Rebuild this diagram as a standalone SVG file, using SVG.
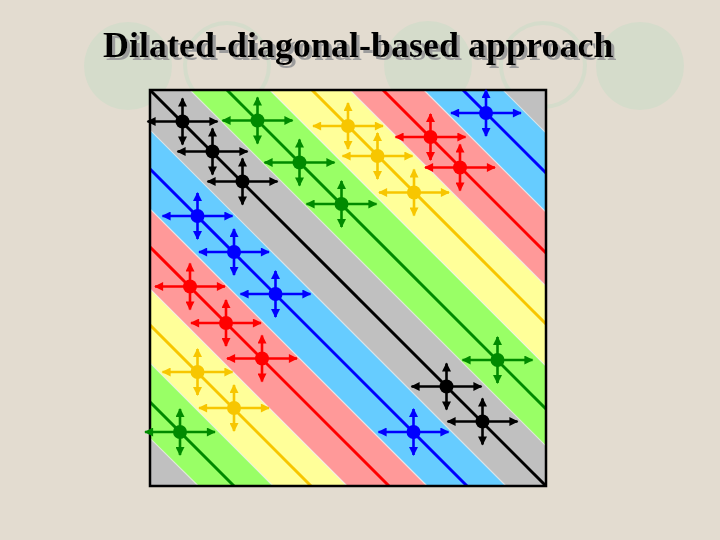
<svg xmlns="http://www.w3.org/2000/svg" xmlns:xlink="http://www.w3.org/1999/xlink" width="720" height="540" viewBox="0 0 720 540">
  <style>
    .title { font-family: "Liberation Serif", "Times New Roman", serif; font-weight: bold; font-size: 36px; }
    .bg-circle { fill: #d5dccb; }
    .bg-ring { fill: none; stroke: #d5dccb; stroke-width: 4; }
    .band { stroke: #f2f2f2; stroke-opacity: 0.7; stroke-width: 1.2; }
    .diag { stroke-width: 3; fill: none; }
    .arm { stroke-width: 2.6; fill: none; }
    .k { stroke: #000000; } .kf { fill: #000000; }
    .g { stroke: #008a00; } .gf { fill: #008a00; }
    .y { stroke: #f7c600; } .yf { fill: #f7c600; }
    .r { stroke: #ff0000; } .rf { fill: #ff0000; }
    .b { stroke: #0000ff; } .bf { fill: #0000ff; }
  </style>
  <defs>
    <filter id="shadow" x="-5%" y="-20%" width="110%" height="150%">
      <feOffset in="SourceAlpha" dx="2.5" dy="2.5" result="off"/>
      <feFlood flood-color="#9c9c9c"/>
      <feComposite in2="off" operator="in" result="sh"/>
      <feMerge><feMergeNode in="sh"/><feMergeNode in="SourceGraphic"/></feMerge>
    </filter>
    <clipPath id="sq"><rect x="150" y="90" width="396" height="396"/></clipPath>
    <marker id="ak" viewBox="0 0 10 10" refX="9" refY="5" markerUnits="userSpaceOnUse" markerWidth="10" markerHeight="9" orient="auto-start-reverse"><path d="M0,0 L10,5 L0,10 z" fill="#000000"/></marker>
    <marker id="ag" viewBox="0 0 10 10" refX="9" refY="5" markerUnits="userSpaceOnUse" markerWidth="10" markerHeight="9" orient="auto-start-reverse"><path d="M0,0 L10,5 L0,10 z" fill="#008a00"/></marker>
    <marker id="ay" viewBox="0 0 10 10" refX="9" refY="5" markerUnits="userSpaceOnUse" markerWidth="10" markerHeight="9" orient="auto-start-reverse"><path d="M0,0 L10,5 L0,10 z" fill="#f7c600"/></marker>
    <marker id="ar" viewBox="0 0 10 10" refX="9" refY="5" markerUnits="userSpaceOnUse" markerWidth="10" markerHeight="9" orient="auto-start-reverse"><path d="M0,0 L10,5 L0,10 z" fill="#ff0000"/></marker>
    <marker id="ab" viewBox="0 0 10 10" refX="9" refY="5" markerUnits="userSpaceOnUse" markerWidth="10" markerHeight="9" orient="auto-start-reverse"><path d="M0,0 L10,5 L0,10 z" fill="#0000ff"/></marker>
    <g id="cross-k"><line class="arm k" x1="-35" y1="0" x2="35" y2="0" marker-start="url(#ak)" marker-end="url(#ak)"/><line class="arm k" x1="0" y1="-23" x2="0" y2="23" marker-start="url(#ak)" marker-end="url(#ak)"/><circle class="kf" r="7"/></g>
    <g id="cross-g"><line class="arm g" x1="-35" y1="0" x2="35" y2="0" marker-start="url(#ag)" marker-end="url(#ag)"/><line class="arm g" x1="0" y1="-23" x2="0" y2="23" marker-start="url(#ag)" marker-end="url(#ag)"/><circle class="gf" r="7"/></g>
    <g id="cross-y"><line class="arm y" x1="-35" y1="0" x2="35" y2="0" marker-start="url(#ay)" marker-end="url(#ay)"/><line class="arm y" x1="0" y1="-23" x2="0" y2="23" marker-start="url(#ay)" marker-end="url(#ay)"/><circle class="yf" r="7"/></g>
    <g id="cross-r"><line class="arm r" x1="-35" y1="0" x2="35" y2="0" marker-start="url(#ar)" marker-end="url(#ar)"/><line class="arm r" x1="0" y1="-23" x2="0" y2="23" marker-start="url(#ar)" marker-end="url(#ar)"/><circle class="rf" r="7"/></g>
    <g id="cross-b"><line class="arm b" x1="-35" y1="0" x2="35" y2="0" marker-start="url(#ab)" marker-end="url(#ab)"/><line class="arm b" x1="0" y1="-23" x2="0" y2="23" marker-start="url(#ab)" marker-end="url(#ab)"/><circle class="bf" r="7"/></g>
  </defs>

  <!-- background -->
  <rect x="0" y="0" width="720" height="540" fill="#e3dcd0"/>
  <g id="background-circles">
    <circle class="bg-circle" cx="128" cy="66" r="44"/>
    <circle class="bg-ring" cx="227" cy="65" r="42"/>
    <circle class="bg-circle" cx="428" cy="65" r="44"/>
    <circle class="bg-ring" cx="543" cy="65" r="42"/>
    <circle class="bg-circle" cx="640" cy="66" r="44"/>
  </g>

  <!-- title -->
  <g id="title">
    <text class="title" x="103" y="57" fill="#000000" filter="url(#shadow)">Dilated-diagonal-based approach</text>
  </g>

  <!-- matrix bands -->
  <g id="bands" clip-path="url(#sq)">
    <rect x="150" y="90" width="396" height="396" fill="#c0c0c0"/>
    <polygon class="band" fill="#99ff66" points="140,40 220,40 720,540 640,540"/>
    <polygon class="band" fill="#ffff99" points="220,40 300,40 800,540 720,540"/>
    <polygon class="band" fill="#ff9999" points="300,40 374,40 874,540 800,540"/>
    <polygon class="band" fill="#66ccff" points="374,40 453,40 953,540 874,540"/>
    <polygon class="band" fill="#66ccff" points="-19,40 60,40 560,540 481,540"/>
    <polygon class="band" fill="#ff9999" points="-99,40 -19,40 481,540 401,540"/>
    <polygon class="band" fill="#ffff99" points="-173,40 -99,40 401,540 327,540"/>
    <polygon class="band" fill="#99ff66" points="-253,40 -173,40 327,540 253,540"/>
  </g>

  <!-- diagonals -->
  <g id="connectors">
    <line id="diag-black" class="diag k" x1="150" y1="90" x2="546" y2="486"/>
    <line id="diag-green-upper" class="diag g" x1="227" y1="90" x2="546" y2="409"/>
    <line id="diag-yellow-upper" class="diag y" x1="312" y1="90" x2="546" y2="324"/>
    <line id="diag-red-upper" class="diag r" x1="383" y1="90" x2="546" y2="253"/>
    <line id="diag-blue-upper" class="diag b" x1="463" y1="90" x2="546" y2="173"/>
    <line id="diag-blue-lower" class="diag b" x1="150" y1="169" x2="467" y2="486"/>
    <line id="diag-red-lower" class="diag r" x1="150" y1="247" x2="389" y2="486"/>
    <line id="diag-yellow-lower" class="diag y" x1="150" y1="325" x2="311" y2="486"/>
    <line id="diag-green-lower" class="diag g" x1="150" y1="402" x2="234" y2="486"/>
  </g>

  <rect id="matrix-frame" x="150" y="90" width="396" height="396" fill="none" stroke="#000000" stroke-width="2.5"/>

  <!-- nodes -->
  <g id="nodes">
    <g id="k1" transform="translate(182.5,121.5)"><use xlink:href="#cross-k"/></g>
    <g id="k2" transform="translate(212.5,151.5)"><use xlink:href="#cross-k"/></g>
    <g id="k3" transform="translate(242.5,181.5)"><use xlink:href="#cross-k"/></g>
    <g id="k4" transform="translate(446.5,386.5)"><use xlink:href="#cross-k"/></g>
    <g id="k5" transform="translate(482.5,421.5)"><use xlink:href="#cross-k"/></g>

    <g id="g1" transform="translate(257.5,120.5)"><use xlink:href="#cross-g"/></g>
    <g id="g2" transform="translate(299.5,162.5)"><use xlink:href="#cross-g"/></g>
    <g id="g3" transform="translate(341.5,204)"><use xlink:href="#cross-g"/></g>
    <g id="g4" transform="translate(497.5,360)"><use xlink:href="#cross-g"/></g>
    <g id="g5" transform="translate(180,432)"><use xlink:href="#cross-g"/></g>

    <g id="y1" transform="translate(348,126)"><use xlink:href="#cross-y"/></g>
    <g id="y2" transform="translate(377.5,156)"><use xlink:href="#cross-y"/></g>
    <g id="y3" transform="translate(414,192.5)"><use xlink:href="#cross-y"/></g>
    <g id="y4" transform="translate(197.5,372)"><use xlink:href="#cross-y"/></g>
    <g id="y5" transform="translate(234,408)"><use xlink:href="#cross-y"/></g>

    <g id="r1" transform="translate(430.5,137)"><use xlink:href="#cross-r"/></g>
    <g id="r2" transform="translate(460,167.5)"><use xlink:href="#cross-r"/></g>
    <g id="r3" transform="translate(190,286.5)"><use xlink:href="#cross-r"/></g>
    <g id="r4" transform="translate(226,323)"><use xlink:href="#cross-r"/></g>
    <g id="r5" transform="translate(262,358.5)"><use xlink:href="#cross-r"/></g>

    <g id="b1" transform="translate(486,113)"><use xlink:href="#cross-b"/></g>
    <g id="b2" transform="translate(197.5,216)"><use xlink:href="#cross-b"/></g>
    <g id="b3" transform="translate(234,252)"><use xlink:href="#cross-b"/></g>
    <g id="b4" transform="translate(275.5,294)"><use xlink:href="#cross-b"/></g>
    <g id="b5" transform="translate(413.5,432)"><use xlink:href="#cross-b"/></g>
  </g>
</svg>
